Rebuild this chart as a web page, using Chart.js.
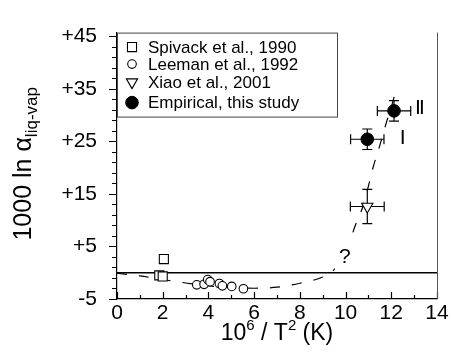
<!DOCTYPE html>
<html>
<head>
<meta charset="utf-8">
<script src="https://cdn.jsdelivr.net/npm/chart.js@4.4.0/dist/chart.umd.min.js"></script>
<style>
  html, body { margin: 0; padding: 0; background: #fff; }
</style>
</head>
<body>
<canvas id="chart" width="452" height="361"></canvas>
<script>
// ===== Data =====
const spivackX = [1.85, 2.0, 2.05];
const spivackY = [-0.5, -0.7, 2.6];

const leemanX = [3.49, 3.81, 3.97, 4.07, 4.48, 4.61, 5.02, 5.53];
const leemanY = [-2.3, -2.2, -1.3, -1.7, -2.05, -2.5, -2.6, -3.05];

const xiaoX = [10.95];
const xiaoY = [12.6];
const xiaoXErr = [0.74];
const xiaoYErr = [3.25];

const empX = [10.95, 12.12];
const empY = [25.4, 30.8];
const empXErr = [0.73, 0.73];
const empYErr = [1.95, 1.95];

// dashed trend curve
const curveX = [0, 1, 2, 3, 4, 5, 6, 7, 8, 9, 9.5, 10, 10.4, 10.75, 11, 11.2, 11.45, 11.8, 12, 12.2];
const curveY = [-0.1, -0.6, -1.3, -1.95, -2.5, -2.85, -2.95, -2.75, -2.0, -0.8, 0.6, 3.3, 8.7, 12.5, 16.5, 20, 23.5, 28.8, 31.5, 34.7];

const zeroX = [0, 14];
const zeroY = [0, 0];

const legendLabels = ['Spivack et al., 1990', 'Leeman et al., 1992', 'Xiao et al., 2001', 'Empirical, this study'];

const xTickVals = [0, 1, 2, 3, 4, 5, 6, 7, 8, 9, 10, 11, 12, 13, 14];
const xMajor = [0, 2, 4, 6, 8, 10, 12, 14];
const xTickLabels = ['0', '2', '4', '6', '8', '10', '12', '14'];
const yMajor = [-5, 5, 15, 25, 35, 45];
const yTickLabels = ['-5', '+5', '+15', '+25', '+35', '+45'];

const notes = [
    { text: 'Ⅰ', x: 12.5, y: 25.4 },
    { text: 'Ⅱ', x: 13.25, y: 31.2 },
    { text: '?', x: 9.97, y: 2.9 }
];

const FONT = "'Liberation Sans', Arial, sans-serif";
const pts = (xs, ys) => xs.map((x, i) => ({ x: x, y: ys[i] }));

// ===== Plugins =====
const errorBars = {
    id: 'errorBars',
    beforeDatasetsDraw(chart) {
        const { ctx, scales: { x, y } } = chart;
        ctx.save();
        ctx.strokeStyle = '#000';
        ctx.lineWidth = 1.2;
        chart.data.datasets.forEach(ds => {
            if (!ds.xErr) return;
            ds.data.forEach((p, j) => {
                const px = x.getPixelForValue(p.x), py = y.getPixelForValue(p.y);
                const x0 = x.getPixelForValue(p.x - ds.xErr[j]), x1 = x.getPixelForValue(p.x + ds.xErr[j]);
                const y0 = y.getPixelForValue(p.y - ds.yErr[j]), y1 = y.getPixelForValue(p.y + ds.yErr[j]);
                const c = 5;
                ctx.beginPath();
                ctx.moveTo(x0, py); ctx.lineTo(x1, py);
                ctx.moveTo(px, y0); ctx.lineTo(px, y1);
                ctx.moveTo(x0, py - c); ctx.lineTo(x0, py + c);
                ctx.moveTo(x1, py - c); ctx.lineTo(x1, py + c);
                ctx.moveTo(px - c, y0); ctx.lineTo(px + c, y0);
                ctx.moveTo(px - c, y1); ctx.lineTo(px + c, y1);
                ctx.stroke();
            });
        });
        ctx.restore();
    }
};

const decor = {
    id: 'decor',
    afterDraw(chart) {
        const { ctx, chartArea: a, scales: { x, y } } = chart;
        ctx.save();
        ctx.strokeStyle = '#000';
        ctx.lineWidth = 1.2;
        // tick marks: y outward, x inward
        ctx.beginPath();
        y.ticks.forEach(t => {
            const py = Math.round(y.getPixelForValue(t.value)) + 0.5;
            const len = yMajor.includes(t.value) ? 8 : 5;
            ctx.moveTo(a.left - len, py); ctx.lineTo(a.left, py);
        });
        x.ticks.forEach(t => {
            const px = Math.round(x.getPixelForValue(t.value)) + 0.5;
            const len = xMajor.includes(t.value) ? 7 : 4;
            ctx.moveTo(px, a.bottom); ctx.lineTo(px, a.bottom - len);
        });
        ctx.stroke();
        // right frame line
        ctx.strokeStyle = '#555';
        ctx.lineWidth = 1;
        ctx.beginPath();
        ctx.moveTo(a.right + 0.5, a.top); ctx.lineTo(a.right + 0.5, a.bottom);
        ctx.stroke();

        // notes (the "?" sits on a white patch that hides the dashed curve)
        ctx.textAlign = 'center';
        ctx.textBaseline = 'middle';
        notes.forEach(n => {
            const px = x.getPixelForValue(n.x), py = y.getPixelForValue(n.y);
            if (n.text === '?') {
                ctx.fillStyle = '#fff';
                ctx.fillRect(px - 10, py - 14, 20, 28);
                ctx.font = '21px ' + FONT;
            } else {
                ctx.font = "20px 'DejaVu Sans'";
            }
            ctx.fillStyle = '#000';
            ctx.fillText(n.text, px, py);
        });

        // legend box
        const lx = a.left, ly = a.top, lw = 220, lh = 84;
        ctx.fillStyle = '#fff';
        ctx.fillRect(lx, ly, lw, lh);
        ctx.strokeStyle = '#444';
        ctx.lineWidth = 1;
        ctx.strokeRect(lx + 0.5, ly + 0.5, lw, lh);
        const rows = [14.5, 31.5, 49.5, 70];
        ctx.font = '17px ' + FONT;
        ctx.textAlign = 'left';
        legendLabels.forEach((lab, i) => {
            const ds = chart.data.datasets[i];
            const cy = ly + rows[i];
            ctx.fillStyle = ds.backgroundColor;
            ctx.strokeStyle = ds.borderColor;
            ctx.lineWidth = ds.borderWidth;
            Chart.helpers.drawPoint(ctx, {
                pointStyle: ds.pointStyle, radius: ds.pointRadius,
                rotation: ds.rotation || 0, borderWidth: ds.borderWidth
            }, lx + 15, cy);
            ctx.fillStyle = '#000';
            ctx.fillText(lab, lx + 31, cy + 1);
        });

        // axis titles
        ctx.fillStyle = '#000';
        ctx.textBaseline = 'alphabetic';
        let big = '23px ' + FONT, small = '15px ' + FONT;
        const xParts = [['10', big, 0], ['6', small, -10], [' / T', big, 0], ['2', small, -10], [' (K)', big, 0]];
        let w = 0;
        xParts.forEach(p => { ctx.font = p[1]; w += ctx.measureText(p[0]).width; });
        let cx = (a.left + a.right) / 2 - w / 2;
        xParts.forEach(p => { ctx.font = p[1]; ctx.fillText(p[0], cx, 340 + p[2]); cx += ctx.measureText(p[0]).width; });

        big = '25px ' + FONT; small = '17px ' + FONT;
        ctx.translate(31, (a.top + a.bottom) / 2 - 2);
        ctx.rotate(-Math.PI / 2);
        const yParts = [['1000 ln α', big, 0], ['liq-vap', small, 6]];
        w = 0;
        yParts.forEach(p => { ctx.font = p[1]; w += ctx.measureText(p[0]).width; });
        cx = -w / 2;
        yParts.forEach(p => { ctx.font = p[1]; ctx.fillText(p[0], cx, p[2]); cx += ctx.measureText(p[0]).width; });
        ctx.restore();
    }
};

// ===== Chart =====
new Chart(document.getElementById('chart'), {
    type: 'scatter',
    data: {
        datasets: [
            { label: legendLabels[0], data: pts(spivackX, spivackY), pointStyle: 'rect', pointRadius: 6.4,
              backgroundColor: '#fff', borderColor: '#000', borderWidth: 1.1, order: 1 },
            { label: legendLabels[1], data: pts(leemanX, leemanY), pointStyle: 'circle', pointRadius: 4.3,
              backgroundColor: '#fff', borderColor: '#000', borderWidth: 1.1, order: 1 },
            { label: legendLabels[2], data: pts(xiaoX, xiaoY), pointStyle: 'triangle', rotation: 180, pointRadius: 6.5,
              backgroundColor: '#fff', borderColor: '#000', borderWidth: 1.1, order: 1,
              xErr: xiaoXErr, yErr: xiaoYErr },
            { label: legendLabels[3], data: pts(empX, empY), pointStyle: 'circle', pointRadius: 6.3,
              backgroundColor: '#000', borderColor: '#000', borderWidth: 1, order: 1,
              xErr: empXErr, yErr: empYErr },
            { label: 'trend', type: 'line', data: pts(curveX, curveY), borderColor: '#000', borderWidth: 1.2,
              borderDash: [10, 12], pointRadius: 0, cubicInterpolationMode: 'monotone', fill: false, order: 5 },
            { label: 'zero', type: 'line', data: pts(zeroX, zeroY), borderColor: '#000', borderWidth: 1.3,
              pointRadius: 0, fill: false, order: 4 }
        ]
    },
    options: {
        responsive: false,
        animation: false,
        devicePixelRatio: 1,
        layout: { padding: { top: 18, right: 15, left: 0, bottom: 0 } },
        plugins: { legend: { display: false }, tooltip: { enabled: false } },
        scales: {
            x: {
                type: 'linear', min: 0, max: 14,
                afterBuildTicks: s => { s.ticks = xTickVals.map(v => ({ value: v })); },
                afterFit: s => { s.height = 62; },
                grid: { drawOnChartArea: false, drawTicks: false },
                border: { color: '#000', width: 1.2 },
                ticks: {
                    autoSkip: false, maxRotation: 0, padding: 2, color: '#000',
                    font: { family: FONT, size: 21 },
                    callback: v => { const i = xMajor.indexOf(v); return i >= 0 ? xTickLabels[i] : ''; }
                }
            },
            y: {
                type: 'linear', min: -5, max: 45.7,
                afterBuildTicks: s => {
                    const t = [];
                    for (let v = -5; v <= 45; v += 2) t.push({ value: v });
                    s.ticks = t;
                },
                afterFit: s => { s.width = 117; },
                grid: { drawOnChartArea: false, drawTicks: false },
                border: { color: '#000', width: 1.2 },
                ticks: {
                    autoSkip: false, padding: 20, color: '#000',
                    font: { family: FONT, size: 21 },
                    callback: v => { const i = yMajor.indexOf(v); return i >= 0 ? yTickLabels[i] : ''; }
                }
            }
        }
    },
    plugins: [errorBars, decor]
});
</script>
</body>
</html>
